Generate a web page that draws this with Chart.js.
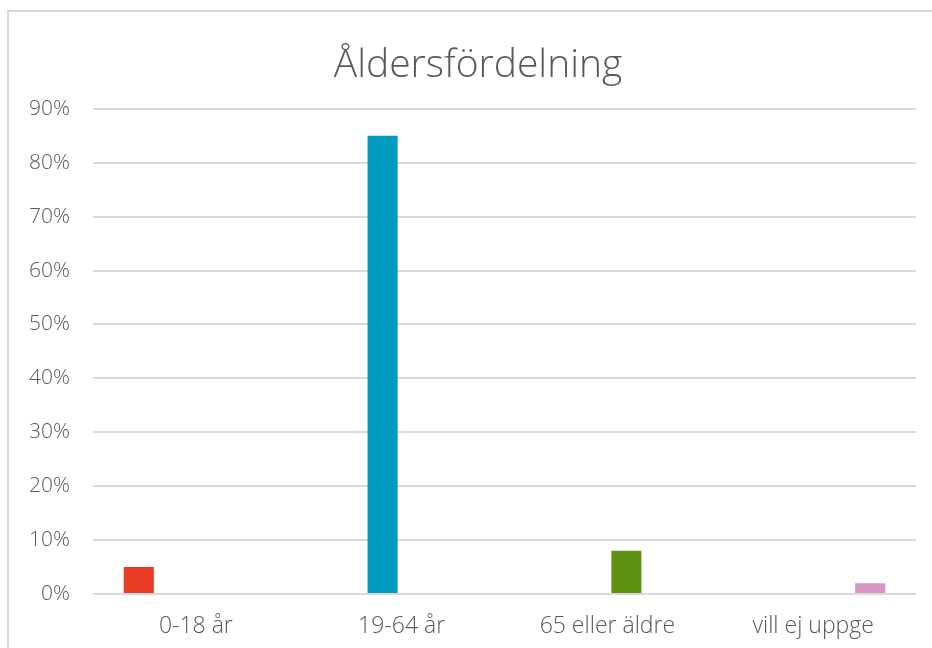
<!DOCTYPE html>
<html>
<head>
<meta charset="utf-8">
<script src="https://cdn.jsdelivr.net/npm/chart.js@4/dist/chart.umd.min.js"></script>
<style>
  html, body { margin: 0; padding: 0; background: #fff; overflow: hidden; }
  #wrap { position: relative; width: 932px; height: 648px; }
  #frame {
    position: absolute; left: 7px; top: 10px; right: -10px; bottom: -10px;
    border: 2px solid #d9d9d9; pointer-events: none;
  }
</style>
</head>
<body>
<div id="wrap">
  <canvas id="chart" width="932" height="648"></canvas>
  <div id="frame"></div>
</div>
<script>
const categories = ['0-18 år', '19-64 år', '65 eller äldre', 'vill ej uppge'];
const shares = [5, 85, 8, 2];
const barColors = ['#e83b26', '#009bbf', '#5f9211', '#d497c2'];
const yTicks = [0, 10, 20, 30, 40, 50, 60, 70, 80, 90];

const textGray = '#595959';
const gridGray = '#d9d9d9';
const fontFamily = '"Open Sans", Lato, sans-serif';

// each age group is its own series, so each bar sits in its own slot of the group
const datasets = categories.map((name, i) => ({
  label: name,
  data: categories.map((_, j) => (j === i ? shares[i] : null)),
  backgroundColor: barColors[i],
  categoryPercentage: 0.74,
  barPercentage: 0.79
}));

// the original title sits a bit right of the canvas centre
const titleShift = {
  id: 'titleShift',
  afterLayout(chart) {
    const t = chart.titleBlock;
    if (t) {
      t.left += 16;
      t.right += 16;
    }
  }
};

new Chart(document.getElementById('chart'), {
  type: 'bar',
  data: { labels: categories, datasets },
  options: {
    responsive: false,
    animation: false,
    layout: { padding: { left: 8, right: 16, top: 0, bottom: 0 } },
    plugins: {
      legend: { display: false },
      tooltip: { enabled: false },
      title: {
        display: true,
        text: 'Åldersfördelning',
        color: textGray,
        font: { family: fontFamily, size: 39, weight: 300 },
        padding: { top: 42, bottom: 20 }
      }
    },
    scales: {
      x: {
        grid: { display: false, drawTicks: false },
        border: { display: false },
        ticks: {
          color: textGray,
          font: { family: fontFamily, size: 23, weight: 300 },
          padding: 19,
          maxRotation: 0
        },
        afterFit: (scale) => { scale.height = 54; }
      },
      y: {
        min: 0,
        max: 90,
        afterBuildTicks: (scale) => { scale.ticks = yTicks.map(v => ({ value: v })); },
        grid: { color: gridGray, lineWidth: 2, drawTicks: false },
        border: { display: false },
        ticks: {
          color: textGray,
          font: { family: fontFamily, size: 21, weight: 300 },
          padding: 23,
          callback: (v) => v + '%'
        },
        afterFit: (scale) => { scale.width = 85; }
      }
    }
  },
  plugins: [titleShift]
});
</script>
</body>
</html>
